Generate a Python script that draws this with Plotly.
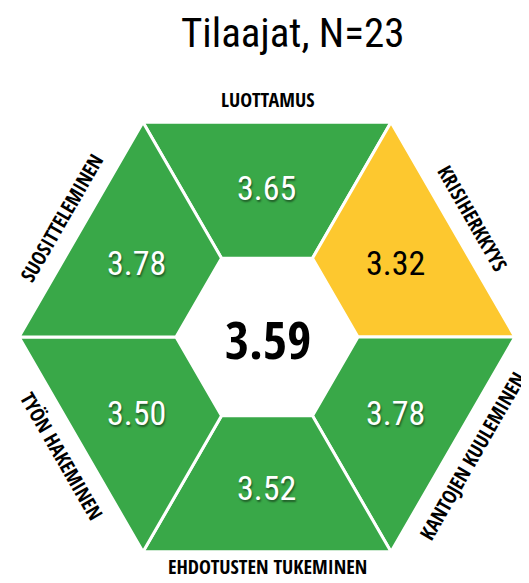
import math
import plotly.graph_objects as go

# ---- data ----
title_text = "Tilaajat, N=23"
categories = ["LUOTTAMUS", "KRISIHERKKYYS", "KANTOJEN KUULEMINEN",
              "EHDOTUSTEN TUKEMINEN", "TYÖN HAKEMINEN", "SUOSITTELEMINEN"]
values = [3.65, 3.32, 3.78, 3.52, 3.50, 3.78]
overall = 3.59

# ---- style / geometry (page pixel coordinates) ----
PAGE_W, PAGE_H = 529, 583
BODY_MARGIN = 8
CX, CY = 267, 337
R_OUT, R_IN = 248, 91
GREEN = "rgb(57,168,72)"
YELLOW = "rgb(253,200,47)"
THRESH = 3.5
VAL_FONT = "Roboto Condensed, Roboto, sans-serif"
LABEL_FONT = "Open Sans Condensed, Roboto Condensed, sans-serif"
mid_angles = [90, 30, 330, 270, 210, 150]
LABEL_GAP = 23
MAX_LABEL_Y = PAGE_H - BODY_MARGIN - 9
MAX_LABEL_X = PAGE_W - BODY_MARGIN - 47


def pt(r, deg):
    a = math.radians(deg)
    return CX + r * math.cos(a), CY - r * math.sin(a)


fig = go.Figure()
annotations = []
apothem = R_OUT * math.sqrt(3) / 2
for cat, val, mid in zip(categories, values, mid_angles):
    a0, a1 = mid - 30, mid + 30
    pts = [pt(R_OUT, a0), pt(R_OUT, a1), pt(R_IN, a1), pt(R_IN, a0), pt(R_OUT, a0)]
    is_green = val >= THRESH
    color = GREEN if is_green else YELLOW
    fig.add_trace(go.Scatter(
        x=[p[0] for p in pts], y=[p[1] for p in pts],
        mode="lines", fill="toself", fillcolor=color,
        line=dict(color="white", width=3), hoverinfo="text",
        text=f"{cat}: {val:.2f}", showlegend=False))
    vx, vy = pt(150, mid)
    annotations.append(dict(
        x=vx - 1, y=vy + 1, text=f"{val:.2f}", showarrow=False,
        font=dict(family=VAL_FONT, size=34,
                  color="white" if is_green else "black",
                  shadow="1px 2px 2px rgba(0,0,0,0.45)" if is_green else "none")))
    lx, ly = pt(apothem + LABEL_GAP, mid)
    ly = min(ly, MAX_LABEL_Y)
    lx = min(lx, MAX_LABEL_X)
    ang = -(mid - 90)
    while ang > 90:
        ang -= 180
    while ang < -90:
        ang += 180
    annotations.append(dict(
        x=lx, y=ly, text=f"<b>{cat}</b>", showarrow=False, textangle=ang,
        font=dict(family=LABEL_FONT, size=20, color="black")))

annotations.append(dict(x=CX + 1, y=CY + 1, text=f"<b>{overall:.2f}</b>",
                        showarrow=False,
                        font=dict(family=LABEL_FONT, size=52, color="black")))
annotations.append(dict(x=292, y=33, text=title_text, showarrow=False,
                        font=dict(family=VAL_FONT, size=41, color="black")))

fig.update_layout(
    width=PAGE_W - 2 * BODY_MARGIN, height=PAGE_H - 2 * BODY_MARGIN,
    margin=dict(l=0, r=0, t=0, b=0),
    paper_bgcolor="white", plot_bgcolor="white",
    xaxis=dict(range=[BODY_MARGIN, PAGE_W - BODY_MARGIN], visible=False, fixedrange=True),
    yaxis=dict(range=[PAGE_H - BODY_MARGIN, BODY_MARGIN], visible=False, fixedrange=True),
    annotations=annotations, showlegend=False)

fig.write_html("out.html")
